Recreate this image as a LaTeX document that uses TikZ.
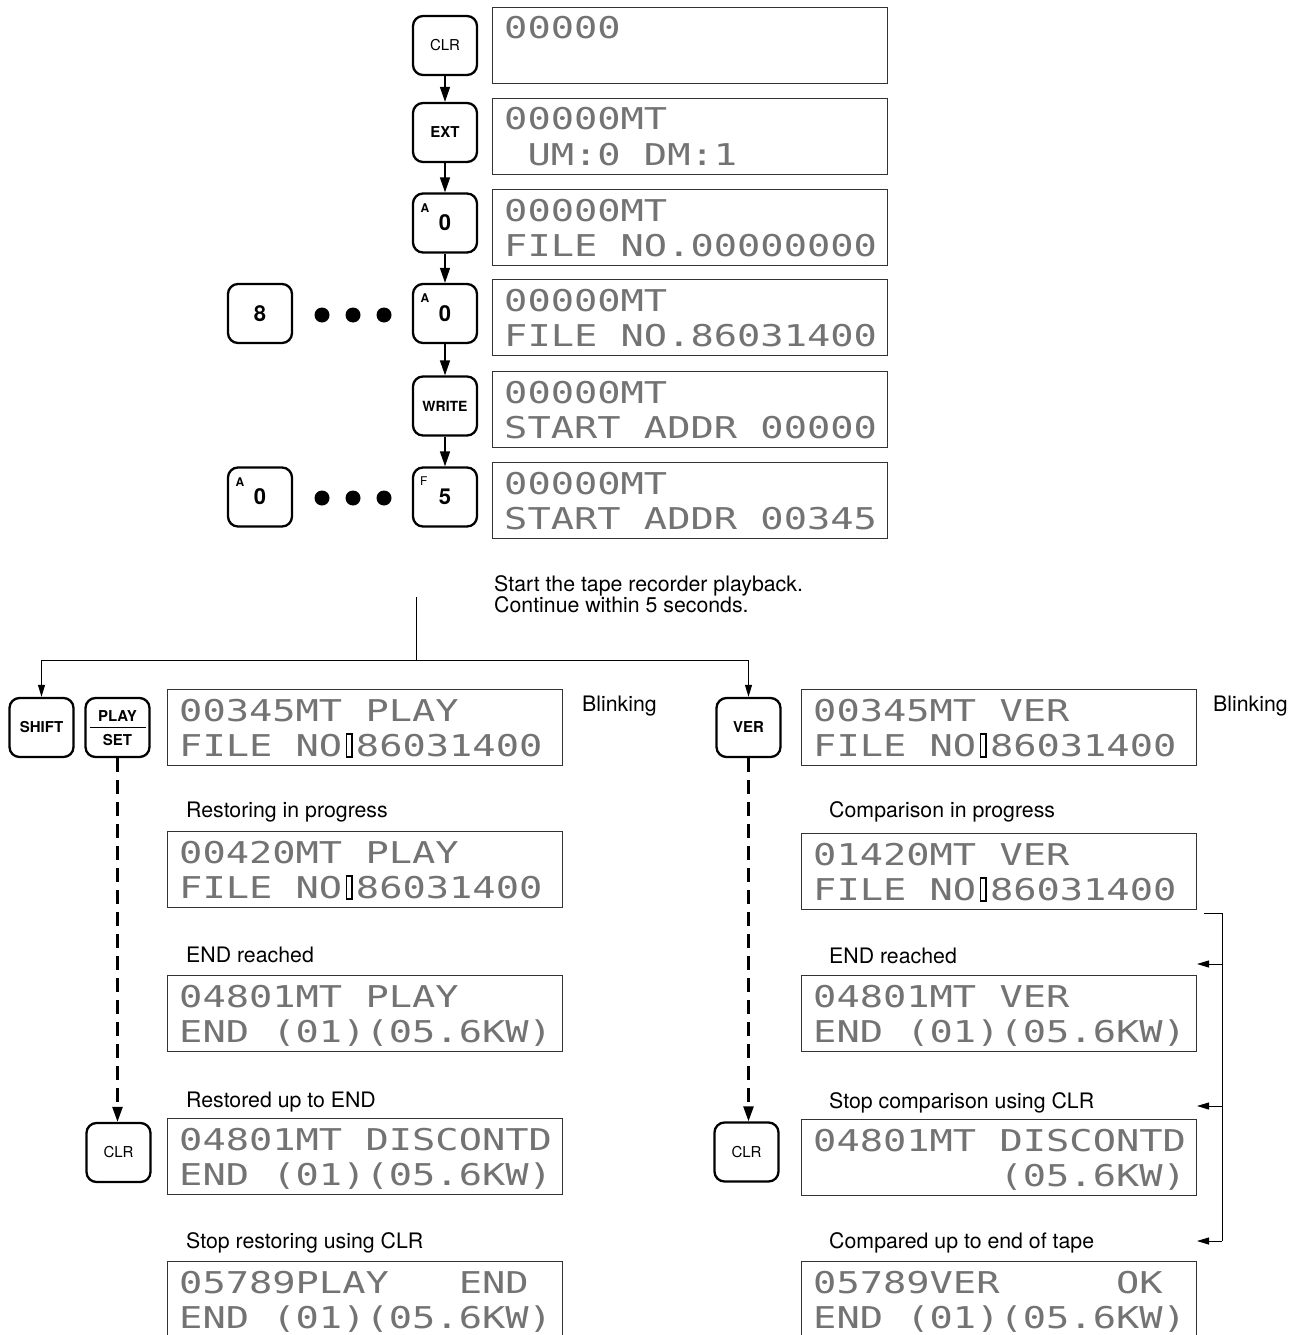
\documentclass[tikz,border=0pt]{standalone}
\usepackage{fontspec}
\setsansfont{TeX Gyre Heros}
\newfontfamily\lcdfont[FakeStretch=1.29]{DejaVu Sans Mono}
\usetikzlibrary{arrows.meta,calc}

\newcommand\sk{\phantom{0}}
\newcommand\cur{\hspace{3.5pt}{\color{black}\setlength\fboxsep{0pt}\setlength\fboxrule{1.6pt}\fbox{\rule{0pt}{21pt}\hspace{4pt}}}\hspace{3pt}}

\newcommand\lcd[5]{%
  \node[lcdbox,anchor=north west] (#1) at (#2,#3) {};
  \node[lcdtext] (#1-a) at ([xshift=12pt,yshift=-32pt]#1.north west) {#4};
  \node[lcdtext] (#1-b) at ([xshift=12pt,yshift=-67pt]#1.north west) {#5};
}

\tikzset{
  lcdbox/.style={draw=black!80, line width=1.1pt, minimum width=395pt, minimum height=76pt, inner sep=0pt},
  lcdtext/.style={anchor=base west, inner sep=0pt, text=black!55, font=\lcdfont\fontsize{30}{30}\selectfont},
  key/.style={draw, line width=2.3pt, rounded corners=10pt, minimum width=64pt, minimum height=59pt, inner sep=0pt, font=\sffamily\fontsize{15}{15}\selectfont},
  keyb/.style={key, font=\sffamily\bfseries\fontsize{15}{15}\selectfont},
  keyd/.style={key, font=\sffamily\bfseries\fontsize{22}{22}\selectfont},
  keysup/.style={inner sep=0pt, font=\sffamily\bfseries\fontsize{12}{12}\selectfont},
  keysupr/.style={inner sep=0pt, font=\sffamily\fontsize{12}{12}\selectfont},
  keylab/.style={inner sep=0pt, font=\sffamily\bfseries\fontsize{15}{15}\selectfont},
  capt/.style={anchor=base west, inner sep=0pt, font=\sffamily\fontsize{21.3}{21.3}\selectfont},
  dotc/.style={circle, fill, inner sep=0pt, minimum size=15pt},
  arr/.style={-{Triangle[length=15pt,width=10pt]}, line width=1.5pt},
  tarr/.style={-{Triangle[length=12pt,width=7pt]}, line width=1pt},
  darr/.style={-{Triangle[length=15pt,width=10pt]}, line width=2.4pt, dash pattern=on 14pt off 8pt},
}

\begin{document}
\begin{tikzpicture}[x=1pt,y=-1pt]
\useasboundingbox (0,0) rectangle (1302,1335);
\clip (0,0) rectangle (1302,1335);
\fill[white] (0,0) rectangle (1302,1335);

% ---------- top sequence ----------
\node[key]  (kclr) at (445,45.5) {CLR};
\node[keyb] (kext) at (445,132.5) {EXT};
\node[keyd] (ka1)  at (445,223) {0};
\node[keysup] (ka1s) at ([xshift=13pt,yshift=-15.5pt]ka1.north west) {A};
\node[keyd] (k8)   at (260,313.5) {8};
\node[keyd] (ka2)  at (445,313.5) {0};
\node[keysup] (ka2s) at ([xshift=13pt,yshift=-15.5pt]ka2.north west) {A};
\node[keyb, font=\sffamily\bfseries\fontsize{14}{14}\selectfont] (kwr) at (445,406) {WRITE};
\node[keyd] (ka3)  at (260,497) {0};
\node[keysup] (ka3s) at ([xshift=13pt,yshift=-15.5pt]ka3.north west) {A};
\node[keyd] (kf5)  at (445,497) {5};
\node[keysupr] (kf5s) at ([xshift=12pt,yshift=-15pt]kf5.north west) {F};

\node[dotc] (d1) at (322,315) {};
\node[dotc] (d2) at (353,315) {};
\node[dotc] (d3) at (384,315) {};
\node[dotc] (e1) at (322,498) {};
\node[dotc] (e2) at (353,498) {};
\node[dotc] (e3) at (384,498) {};

\draw[arr] (kclr.south) -- (kext.north);
\draw[arr] (kext.south) -- (ka1.north);
\draw[arr] (ka1.south) -- (ka2.north);
\draw[arr] (ka2.south) -- (kwr.north);
\draw[arr] (kwr.south) -- (kf5.north);

\lcd{L1}{492}{7}{00000}{}
\lcd{L2}{492}{98}{00000MT}{\sk UM:0\sk DM:1}
\lcd{L3}{492}{189}{00000MT}{FILE\sk NO.00000000}
\lcd{L4}{492}{279}{00000MT}{FILE\sk NO.86031400}
\lcd{L5}{492}{371}{00000MT}{START\sk ADDR\sk 00000}
\lcd{L6}{492}{462}{00000MT}{START\sk ADDR\sk 00345}

% ---------- instruction ----------
\node[capt] (t1) at (494,591) {Start the tape recorder playback.};
\node[capt] (t2) at (494,612) {Continue within 5 seconds.};

\coordinate (jtop) at (416,597);
\coordinate (jmid) at (416,660);

% ---------- lower keys ----------
\node[keyb] (kshift) at (41.5,727.5) {SHIFT};
\node[key]  (kplay)  at (117.5,727.5) {};
\node[keylab] (kplayt) at ([yshift=11.5pt]kplay.center) {PLAY};
\node[keylab] (kplayb) at ([yshift=-12.5pt]kplay.center) {SET};
\draw[line width=1.5pt] ([xshift=-28pt]kplay.center) -- ([xshift=28pt]kplay.center);
\node[keyb] (kver)   at (748.5,727.5) {VER};
\node[key]  (kclrl)  at (118.5,1152.5) {CLR};
\node[key]  (kclrr)  at (746.5,1152) {CLR};

\draw[line width=1pt] (jtop) -- (jmid);
\draw[tarr] (jmid) -| (kshift.north);
\draw[tarr] (jmid) -| (kver.north);

\draw[darr] (kplay.south) -- (kplay.south |- kclrl.north);
\draw[darr] (kver.south) -- (kver.south |- kclrr.north);

% ---------- left column ----------
\lcd{P1}{167}{689}{00345MT\sk PLAY}{FILE\sk NO\cur 86031400}
\lcd{P2}{167}{831}{00420MT\sk PLAY}{FILE\sk NO\cur 86031400}
\lcd{P3}{167}{975}{04801MT\sk PLAY}{END\sk (01)(05.6KW)}
\lcd{P4}{167}{1118}{04801MT\sk DISCONTD}{END\sk (01)(05.6KW)}
\lcd{P5}{167}{1261}{05789PLAY\sk\sk\sk END}{END\sk (01)(05.6KW)}

\node[capt] (blink1) at (582,711) {Blinking};
\node[capt] (c1) at (186,817) {Restoring in progress};
\node[capt] (c2) at (186,962) {END reached};
\node[capt] (c3) at (186,1107) {Restored up to END};
\node[capt] (c4) at (186,1248) {Stop restoring using CLR};

% ---------- right column ----------
\lcd{V1}{801}{689}{00345MT\sk VER}{FILE\sk NO\cur 86031400}
\lcd{V2}{801}{833}{01420MT\sk VER}{FILE\sk NO\cur 86031400}
\lcd{V3}{801}{975}{04801MT\sk VER}{END\sk (01)(05.6KW)}
\lcd{V4}{801}{1119}{04801MT\sk DISCONTD}{\sk\sk\sk\sk\sk\sk\sk\sk (05.6KW)}
\lcd{V5}{801}{1261}{05789VER\sk\sk\sk\sk\sk OK}{END\sk (01)(05.6KW)}

\node[capt] (blink2) at (1213,711) {Blinking};
\node[capt] (r1) at (829,817) {Comparison in progress};
\node[capt] (r2) at (829,963) {END reached};
\node[capt] (r3) at (829,1108) {Stop comparison using CLR};
\node[capt] (r4) at (829,1248) {Compared up to end of tape};

% ---------- bracket ----------
\coordinate (b0) at (1204,913);
\coordinate (b1) at (1222,913);
\coordinate (a1) at (1197,964);
\coordinate (a2) at (1197,1106);
\coordinate (a3) at (1197,1241);
\draw[line width=1pt] (b0) -- (b1) -- (b1 |- a3);
\draw[tarr] (b1 |- a1) -- (a1);
\draw[tarr] (b1 |- a2) -- (a2);
\draw[tarr] (b1 |- a3) -- (a3);
\end{tikzpicture}
\end{document}
